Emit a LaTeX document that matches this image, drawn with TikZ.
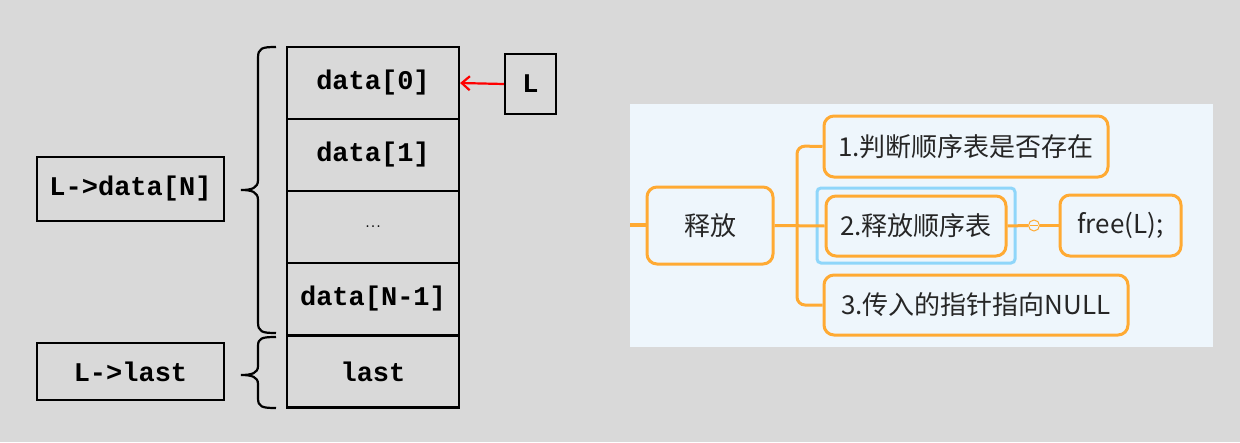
\documentclass[tikz,border=0pt]{standalone}
\usepackage{fontspec}
\setmonofont{Liberation Mono}
\newfontfamily\cjk{Noto Sans CJK SC}
\usetikzlibrary{arrows.meta}
\definecolor{bg}{HTML}{D9D9D9}
\definecolor{panel}{HTML}{EEF6FC}
\definecolor{org}{HTML}{FFAA33}
\definecolor{hl}{HTML}{8FD6FA}
\begin{document}
\begin{tikzpicture}[x=1pt,y=-1pt,
 cell/.style={draw,line width=2.2pt,minimum width=172pt,minimum height=72pt,inner sep=0,font=\ttfamily\bfseries\fontsize{27}{30}\selectfont},
 lab/.style={draw,line width=2.2pt,inner sep=0,font=\ttfamily\bfseries\fontsize{27}{30}\selectfont},
 mm/.style={draw=org,line width=3pt,rounded corners=10pt,fill=panel,inner sep=0,font=\cjk\fontsize{26}{29}\selectfont,text=black!85},
 br/.style={line width=2.2pt}]
\fill[bg] (0,0) rectangle (1240,442);
\useasboundingbox (0,0) rectangle (1240,442);
% array cells
\node[cell] (c0) at (373,83) {data[0]};
\node[cell] (c1) at (373,155) {data[1]};
\node[cell] (c2) at (373,227) {\textmd{\rmfamily\fontsize{22}{24}\selectfont ...}};
\node[cell] (c3) at (373,299) {data[N-1]};
\node[cell] (c4) at (373,371.5) {last};
\node[lab,minimum width=51pt,minimum height=60pt] (L) at (530.5,84) {L};
\draw[red,line width=2.2pt,-{Straight Barb[length=8pt,width=14pt]}] (L.west) -- (c0.east);
\node[lab,minimum width=187pt,minimum height=64pt] (ld) at (130.5,189) {L->data[N]};
\node[lab,minimum width=187pt,minimum height=57pt] (ll) at (130.5,371.5) {L->last};
% braces
\draw[br] (276,47) .. controls (262,47) and (258,48) .. (258,58) -- (258,180) .. controls (258,188) and (252,190) .. (241,190)
  .. controls (252,190) and (258,192) .. (258,200) -- (258,322) .. controls (258,332) and (262,333) .. (276,333);
\draw[br] (276,337) .. controls (262,337) and (258,338) .. (258,346) -- (258,366) .. controls (258,373) and (252,375) .. (241,375)
  .. controls (252,375) and (258,377) .. (258,384) -- (258,398) .. controls (258,407) and (262,408) .. (276,408);
% mind map panel
\fill[panel] (630,104) rectangle (1213,347);
\draw[org,line width=3.5pt] (630,225) -- (648,225);
\node[mm,minimum width=126pt,minimum height=77pt] (r) at (710,225.5) {释放};
\draw[hl,line width=3pt,rounded corners=4pt] (817,188) rectangle (1015,263);
\node[mm,minimum width=284pt,minimum height=61pt] (a) at (966,146.5) {1.判断顺序表是否存在};
\node[mm,minimum width=180pt,minimum height=60pt] (b) at (916,226) {2.释放顺序表};
\node[mm,minimum width=304pt,minimum height=60pt] (c) at (976,305) {3.传入的指针指向NULL};
\node[mm,minimum width=121pt,minimum height=61pt] (f) at (1120.5,225.5) {free(L);};
\draw[org,line width=3pt] (r.east) -- (b.west);
\draw[org,line width=3pt,rounded corners=8pt] (a.west) -- (797,146) -- (797,305) -- (c.west);
\node[draw=org,line width=1pt,circle,minimum size=11pt,inner sep=0,fill=panel] (k) at (1034,225.5) {};
\draw[org,line width=1pt] (1030,225.5) -- (1038,225.5);
\draw[org,line width=3pt] (b.east) -- (k.west);
\draw[org,line width=3pt] (k.east) -- (f.west);
\end{tikzpicture}
\end{document}
